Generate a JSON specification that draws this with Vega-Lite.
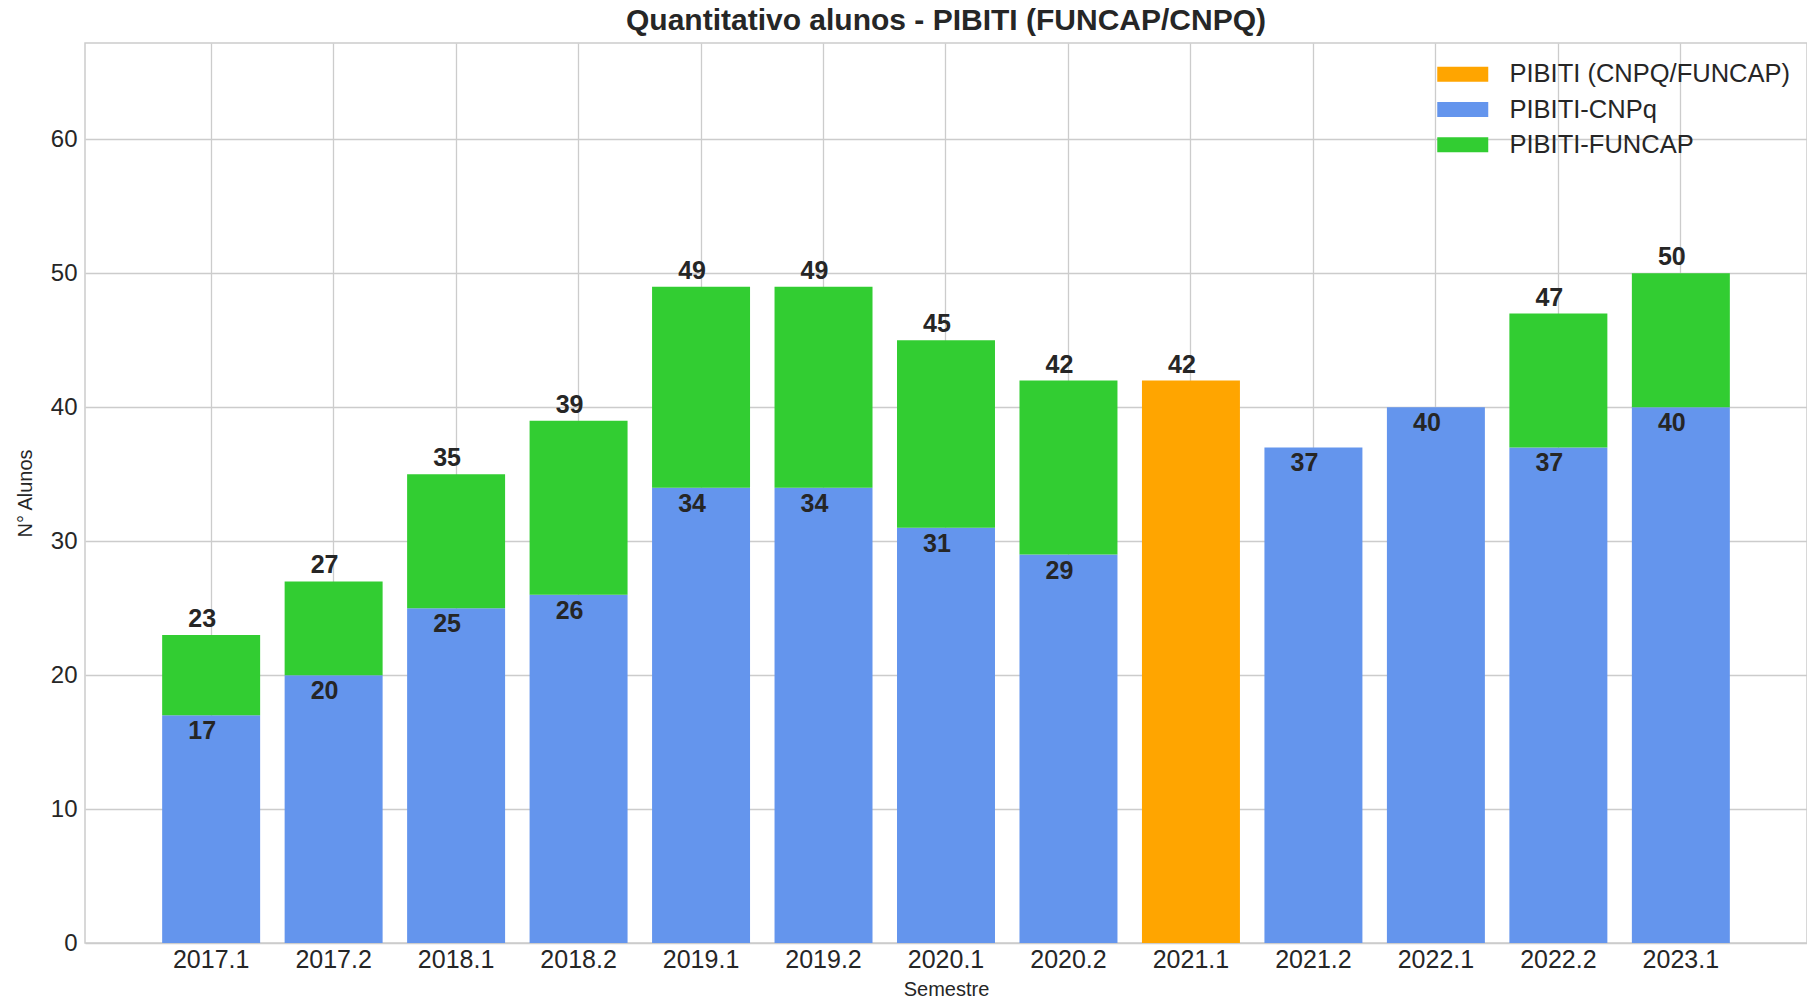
{
  "$schema": "https://vega.github.io/schema/vega-lite/v6.json",
  "autosize": {"type": "none"},
  "padding": {"left": 85, "top": 43, "right": 0, "bottom": 57},
  "width": 1722,
  "height": 900,
  "background": "white",
  "config": {
    "font": "Liberation Sans",
    "view": {"stroke": "#cccccc", "strokeWidth": 1.5},
    "axis": {"gridColor": "#cccccc", "gridWidth": 1.3, "domain": false, "ticks": false, "labelColor": "#262626", "titleColor": "#262626", "labelFont": "Liberation Sans", "titleFont": "Liberation Sans"}
  },
  "title": {"text": "Quantitativo alunos - PIBITI (FUNCAP/CNPQ)", "fontSize": 30, "fontWeight": "bold", "color": "#262626", "font": "Liberation Sans", "offset": 7, "anchor": "middle"},
  "datasets": {
    "bars": [
      {"semester": "2017.1", "program": "PIBITI-CNPq", "value": 17},
      {"semester": "2017.1", "program": "PIBITI-FUNCAP", "value": 6},
      {"semester": "2017.2", "program": "PIBITI-CNPq", "value": 20},
      {"semester": "2017.2", "program": "PIBITI-FUNCAP", "value": 7},
      {"semester": "2018.1", "program": "PIBITI-CNPq", "value": 25},
      {"semester": "2018.1", "program": "PIBITI-FUNCAP", "value": 10},
      {"semester": "2018.2", "program": "PIBITI-CNPq", "value": 26},
      {"semester": "2018.2", "program": "PIBITI-FUNCAP", "value": 13},
      {"semester": "2019.1", "program": "PIBITI-CNPq", "value": 34},
      {"semester": "2019.1", "program": "PIBITI-FUNCAP", "value": 15},
      {"semester": "2019.2", "program": "PIBITI-CNPq", "value": 34},
      {"semester": "2019.2", "program": "PIBITI-FUNCAP", "value": 15},
      {"semester": "2020.1", "program": "PIBITI-CNPq", "value": 31},
      {"semester": "2020.1", "program": "PIBITI-FUNCAP", "value": 14},
      {"semester": "2020.2", "program": "PIBITI-CNPq", "value": 29},
      {"semester": "2020.2", "program": "PIBITI-FUNCAP", "value": 13},
      {"semester": "2021.1", "program": "PIBITI (CNPQ/FUNCAP)", "value": 42},
      {"semester": "2021.2", "program": "PIBITI-CNPq", "value": 37},
      {"semester": "2022.1", "program": "PIBITI-CNPq", "value": 40},
      {"semester": "2022.2", "program": "PIBITI-CNPq", "value": 37},
      {"semester": "2022.2", "program": "PIBITI-FUNCAP", "value": 10},
      {"semester": "2023.1", "program": "PIBITI-CNPq", "value": 40},
      {"semester": "2023.1", "program": "PIBITI-FUNCAP", "value": 10}
    ],
    "totals": [
      {"semester": "2017.1", "total": 23},
      {"semester": "2017.2", "total": 27},
      {"semester": "2018.1", "total": 35},
      {"semester": "2018.2", "total": 39},
      {"semester": "2019.1", "total": 49},
      {"semester": "2019.2", "total": 49},
      {"semester": "2020.1", "total": 45},
      {"semester": "2020.2", "total": 42},
      {"semester": "2021.1", "total": 42},
      {"semester": "2022.2", "total": 47},
      {"semester": "2023.1", "total": 50}
    ]
  },
  "encoding": {
    "x": {
      "field": "semester", "type": "ordinal",
      "scale": {"paddingInner": 0.2, "paddingOuter": 0.63},
      "axis": {"labelAngle": 0, "labelFontSize": 25, "labelPadding": 4, "title": "Semestre", "titleFontSize": 20, "titleFontWeight": "normal", "titlePadding": 7, "grid": true}
    }
  },
  "layer": [
    {
      "data": {"name": "bars"},
      "mark": {"type": "bar"},
      "encoding": {
        "y": {
          "field": "value", "type": "quantitative", "stack": "zero",
          "scale": {"domain": [0, 67.2], "nice": false, "zero": true},
          "axis": {"values": [0, 10, 20, 30, 40, 50, 60], "labelFontSize": 24, "labelPadding": 8, "title": "N° Alunos", "titleFontSize": 20, "titleFontWeight": "normal", "titlePadding": 15}
        },
        "order": {"field": "program", "type": "nominal", "sort": "ascending"},
        "color": {
          "field": "program", "type": "nominal",
          "scale": {"domain": ["PIBITI (CNPQ/FUNCAP)", "PIBITI-CNPq", "PIBITI-FUNCAP"], "range": ["#FFA500", "#6495ED", "#32CD32"]},
          "legend": {
            "title": null, "orient": "none", "legendX": 1365, "legendY": 18.5, "padding": 0,
            "symbolType": "M-3.4,-1H3.4V1H-3.4Z", "symbolSize": 225, "symbolStrokeWidth": 0, "symbolOpacity": 1,
            "labelFontSize": 25.5, "labelColor": "#262626", "labelFont": "Liberation Sans", "labelOffset": 34, "labelLimit": 500, "rowPadding": 8.3
          }
        }
      }
    },
    {
      "data": {"name": "bars"},
      "transform": [{"filter": "datum.program === 'PIBITI-CNPq'"}],
      "mark": {"type": "text", "fontSize": 25, "fontWeight": "bold", "color": "#262626", "baseline": "middle", "dy": 16, "dx": -9},
      "encoding": {
        "y": {"field": "value", "type": "quantitative", "stack": null},
        "text": {"field": "value", "type": "quantitative"}
      }
    },
    {
      "data": {"name": "totals"},
      "mark": {"type": "text", "fontSize": 25, "fontWeight": "bold", "color": "#262626", "baseline": "middle", "dy": -16, "dx": -9},
      "encoding": {
        "y": {"field": "total", "type": "quantitative"},
        "text": {"field": "total", "type": "quantitative"}
      }
    }
  ]
}
